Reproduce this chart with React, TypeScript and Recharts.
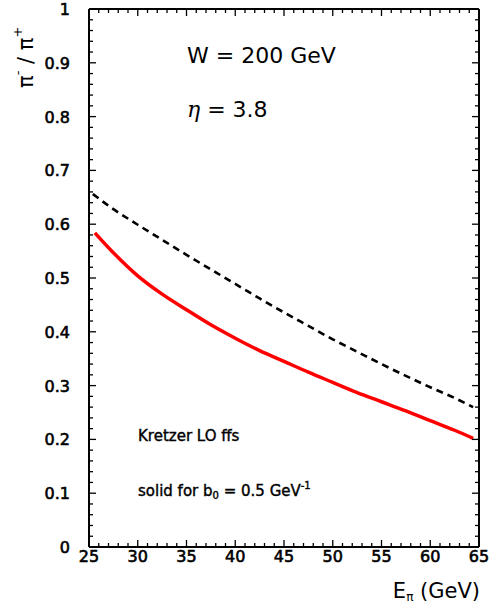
import { LineChart, Line, XAxis, YAxis } from 'recharts'

// E_pi (GeV) values
const dashedE = [25.4, 27.5, 30, 32.5, 35, 37.5, 40, 42.5, 45, 47.5, 50, 52.5, 55, 57.5, 60, 62.5, 64.4]
const dashedR = [0.656, 0.628, 0.599, 0.571, 0.543, 0.516, 0.489, 0.462, 0.436, 0.411, 0.386, 0.363, 0.34, 0.318, 0.297, 0.277, 0.26]

const solidE = [25.6, 27.5, 30, 32.5, 35, 37.5, 40, 42.5, 45, 47.5, 50, 52.5, 55, 57.5, 60, 62.5, 64.4]
const solidR = [0.584, 0.547, 0.504, 0.47, 0.441, 0.413, 0.388, 0.365, 0.345, 0.325, 0.306, 0.287, 0.27, 0.253, 0.235, 0.217, 0.202]

const xTicks = Array.from({ length: 41 }, (_, i) => 25 + i)
const yTicks = Array.from({ length: 51 }, (_, i) => Math.round(i * 2) / 100)

const dashedData = dashedE.map((e, i) => ({ e, r: dashedR[i] }))
const solidData = solidE.map((e, i) => ({ e, r: solidR[i] }))

const FONT = '"DejaVu Sans", Verdana, sans-serif'
const X_MARGIN = 4
const Y_MARGIN = 19
const TICK_W = 1.3

const isMajorY = (v: number) => Math.abs(v * 10 - Math.round(v * 10)) < 1e-6
const yLabel = (v: number) => (v === 0 ? '0' : v === 1 ? '1' : v.toFixed(1))

const labelStyle = {
  fontFamily: FONT,
  fontSize: 16,
  fill: '#000',
  stroke: '#000',
  strokeWidth: 0.6,
}

function BottomTick({ x, y, payload }: any) {
  const v = payload.value
  const major = v % 5 === 0
  const ay = y - X_MARGIN
  return (
    <g>
      <line x1={x} x2={x} y1={ay} y2={ay - (major ? 7 : 4)} stroke="#000" strokeWidth={TICK_W} />
      {major && (
        <text x={x} y={ay + 15} textAnchor="middle" {...labelStyle}>
          {v}
        </text>
      )}
    </g>
  )
}

function TopTick({ x, y, payload }: any) {
  const major = payload.value % 5 === 0
  return <line x1={x} x2={x} y1={y} y2={y + (major ? 7 : 4)} stroke="#000" strokeWidth={TICK_W} />
}

function LeftTick({ x, y, payload }: any) {
  const v = payload.value
  const major = isMajorY(v)
  const ax = x + Y_MARGIN
  return (
    <g>
      <line x1={ax} x2={ax + (major ? 7 : 4)} y1={y} y2={y} stroke="#000" strokeWidth={TICK_W} />
      {major && (
        <text x={x} y={y + 6} textAnchor="end" {...labelStyle}>
          {yLabel(v)}
        </text>
      )}
    </g>
  )
}

function RightTick({ x, y, payload }: any) {
  const major = isMajorY(payload.value)
  return <line x1={x} x2={x - (major ? 7 : 4)} y1={y} y2={y} stroke="#000" strokeWidth={TICK_W} />
}

export default function App() {
  const axisLine = { stroke: '#000', strokeWidth: 2 }
  const txt = { fontFamily: FONT, fill: '#000' }
  return (
    <div style={{ position: 'absolute', left: 0, top: 0, width: 492, height: 613, background: '#fff' }}>
      <LineChart width={492} height={613} margin={{ top: 8, right: 12, bottom: 36, left: 0 }}>
        <XAxis
          xAxisId="bottom"
          dataKey="e"
          type="number"
          domain={[25, 65]}
          ticks={xTicks}
          interval={0}
          tickSize={0}
          tickMargin={X_MARGIN}
          height={30}
          axisLine={axisLine}
          tick={<BottomTick />}
        />
        <XAxis
          xAxisId="top"
          orientation="top"
          dataKey="e"
          type="number"
          domain={[25, 65]}
          ticks={xTicks}
          interval={0}
          tickSize={0}
          tickMargin={0}
          height={1}
          axisLine={axisLine}
          tick={<TopTick />}
        />
        <YAxis
          yAxisId="left"
          dataKey="r"
          type="number"
          domain={[0, 1]}
          ticks={yTicks}
          interval={0}
          tickSize={0}
          tickMargin={Y_MARGIN}
          width={89}
          axisLine={axisLine}
          tick={<LeftTick />}
        />
        <YAxis
          yAxisId="right"
          orientation="right"
          dataKey="r"
          type="number"
          domain={[0, 1]}
          ticks={yTicks}
          interval={0}
          tickSize={0}
          tickMargin={0}
          width={1}
          axisLine={axisLine}
          tick={<RightTick />}
        />
        <Line
          xAxisId="bottom"
          yAxisId="left"
          data={dashedData}
          dataKey="r"
          type="monotone"
          stroke="#000"
          strokeWidth={2.6}
          strokeDasharray="7 5"
          dot={false}
          isAnimationActive={false}
        />
        <Line
          xAxisId="top"
          yAxisId="right"
          data={solidData}
          dataKey="r"
          type="monotone"
          stroke="#ff0000"
          strokeWidth={3.5}
          dot={false}
          isAnimationActive={false}
        />
      </LineChart>
      <svg width={492} height={613} style={{ position: 'absolute', left: 0, top: 0, pointerEvents: 'none' }}>
        <g {...txt}>
          <text x={187} y={63} fontSize={22}>W = 200 GeV</text>
          <text x={187} y={117} fontSize={22}>
            <tspan fontFamily='"DejaVu Serif", serif' fontStyle="italic">η</tspan> = 3.8
          </text>
          <text x={138} y={441} fontSize={15} stroke="#000" strokeWidth={0.4}>Kretzer LO ffs</text>
          <text x={138} y={496} fontSize={15} stroke="#000" strokeWidth={0.4}>
            solid for b<tspan fontSize={10} dy={3}>0</tspan>
            <tspan dy={-3}> = 0.5 GeV</tspan>
            <tspan fontSize={10} dy={-7}>-1</tspan>
          </text>
          <text x={480} y={598} fontSize={21} textAnchor="end">
            E<tspan fontSize={12} dy={3}>π</tspan>
            <tspan dy={-3}> (GeV)</tspan>
          </text>
          <text transform="translate(33, 88) rotate(-90)" fontSize={21} textAnchor="start">
            π<tspan fontSize={13} dy={-11}>-</tspan>
            <tspan dy={11}> / π</tspan>
            <tspan fontSize={13} dy={-11}>+</tspan>
          </text>
        </g>
      </svg>
    </div>
  )
}
